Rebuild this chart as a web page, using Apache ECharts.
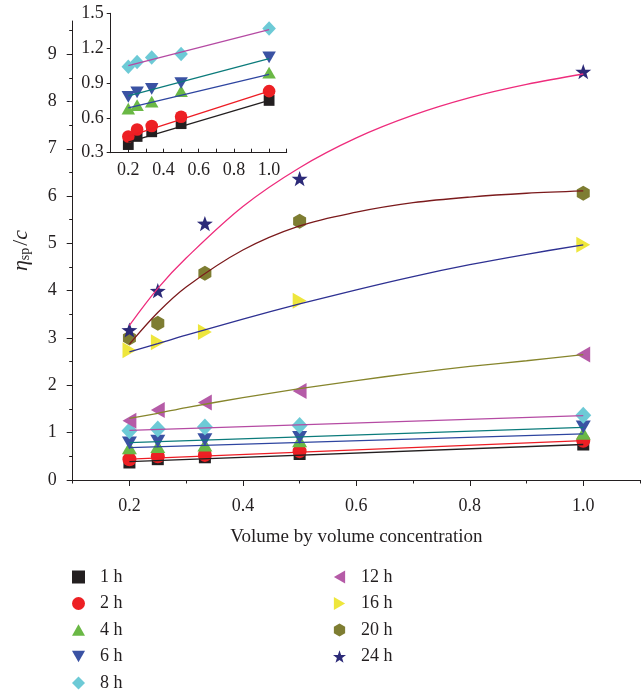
<!DOCTYPE html>
<html>
<head>
<meta charset="utf-8">
<script src="https://cdn.jsdelivr.net/npm/echarts@6/dist/echarts.min.js"></script>
<style>
html,body{margin:0;padding:0;background:#fff;}
#chart{width:644px;height:695px;}
</style>
</head>
<body>
<div id="chart"></div>
<script>
// ---------- data ----------
const conc = [0.2, 0.25, 0.333, 0.5, 1.0];
const seriesNames = ['1 h', '2 h', '4 h', '6 h', '8 h', '12 h', '16 h', '20 h', '24 h'];
const v1h  = [0.37, 0.44, 0.48, 0.55, 0.75];
const v2h  = [0.44, 0.50, 0.53, 0.61, 0.83];
const v4h  = [0.68, 0.71, 0.74, 0.83, 0.99];
const v6h  = [0.78, 0.82, 0.85, 0.90, 1.12];
const v8h  = [1.04, 1.08, 1.12, 1.15, 1.37];
const v12h = [1.25, 1.48, 1.64, 1.88, 2.65];
const v16h = [2.74, 2.91, 3.13, 3.79, 4.97];
const v20h = [3.00, 3.31, 4.37, 5.47, 6.06];
const v24h = [3.17, 4.00, 5.42, 6.37, 8.63];

// fitted lines
const fitLineX = [0.2, 1.0];
const fit1h = [0.39, 0.75];
const fit2h = [0.44, 0.83];
const fit4h = [0.685, 0.975];
const fit6h = [0.79, 1.11];
const fit8h = [1.05, 1.36];
const fitCurveX = [0.2, 0.25, 0.3, 0.4, 0.5, 0.6, 0.7, 0.8, 0.9, 1.0];
const fit12h = [1.30, 1.41, 1.53, 1.74, 1.93, 2.10, 2.26, 2.40, 2.52, 2.65];
const fit16h = [2.71, 2.88, 3.06, 3.40, 3.72, 4.02, 4.30, 4.55, 4.77, 4.97];
const fit20h = [2.87, 3.54, 4.08, 4.86, 5.37, 5.66, 5.86, 5.98, 6.06, 6.11];
const fit24h = [3.27, 4.05, 4.69, 5.78, 6.60, 7.23, 7.71, 8.08, 8.36, 8.58];

// tick values
const mainXLabels = [0.2, 0.4, 0.6, 0.8, 1.0];
const mainXMinor = [0.1, 0.3, 0.5, 0.7, 0.9, 1.1];
const mainYLabels = [0, 1, 2, 3, 4, 5, 6, 7, 8, 9];
const mainYMinor = [0.5, 1.5, 2.5, 3.5, 4.5, 5.5, 6.5, 7.5, 8.5, 9.5];
const insetXTicks = [0.1, 0.2, 0.3, 0.4, 0.5, 0.6, 0.7, 0.8, 0.9, 1.0, 1.1];
const insetXLabels = [0.2, 0.4, 0.6, 0.8, 1.0];

// ---------- styles ----------
const FONT = 'Liberation Serif';
const INK = '#231f20';
const STAR = 'path://M0,-10 L2.35,-3.24 L9.51,-3.09 L3.80,1.24 L5.88,8.09 L0,4.0 L-5.88,8.09 L-3.80,1.24 L-9.51,-3.09 L-2.35,-3.24 Z';
const HEX = 'path://M0,-10 L8.66,-5 L8.66,5 L0,10 L-8.66,5 L-8.66,-5 Z';
const UP = 'path://M0,-8.66 L10,8.66 L-10,8.66 Z';
const DOWN = 'path://M-10,-8.66 L10,-8.66 L0,8.66 Z';
const LEFT = 'path://M-8.66,0 L8.66,-10 L8.66,10 Z';
const RIGHT = 'path://M8.66,0 L-8.66,-10 L-8.66,10 Z';

const groups = [
  {name: seriesNames[0], v: v1h, fx: fitLineX, fy: fit1h, sym: 'rect', size: 12, color: '#231f20', line: '#231f20', inset: true},
  {name: seriesNames[1], v: v2h, fx: fitLineX, fy: fit2h, sym: 'circle', size: 14, color: '#ed2024', line: '#ed1c24', inset: true},
  {name: seriesNames[2], v: v4h, fx: fitLineX, fy: fit4h, sym: UP, size: 15, color: '#6ab845', line: '#2e45a0', inset: true},
  {name: seriesNames[3], v: v6h, fx: fitLineX, fy: fit6h, sym: DOWN, size: 15, color: '#3a52a3', line: '#0b7b7b', inset: true},
  {name: seriesNames[4], v: v8h, fx: fitLineX, fy: fit8h, sym: 'diamond', size: [16, 17], color: '#6dcad6', line: '#b54aa3', inset: true},
  {name: seriesNames[5], v: v12h, fx: fitCurveX, fy: fit12h, sym: LEFT, size: 16, color: '#b55ba7', line: '#86852c', inset: false},
  {name: seriesNames[6], v: v16h, fx: fitCurveX, fy: fit16h, sym: RIGHT, size: 16, color: '#eee63c', line: '#2e3192', inset: false},
  {name: seriesNames[7], v: v20h, fx: fitCurveX, fy: fit20h, sym: HEX, size: 15, color: '#7e7d32', line: '#7b1a1c', inset: false},
  {name: seriesNames[8], v: v24h, fx: fitCurveX, fy: fit24h, sym: STAR, size: 16, color: '#2c2a78', line: '#ee2c7c', inset: false}
];

function pairs(xs, ys) { return xs.map(function (x, i) { return [x, ys[i]]; }); }

const series = [];
groups.forEach(function (g) {
  series.push({
    name: g.name, type: 'scatter', xAxisIndex: 0, yAxisIndex: 0,
    data: pairs(conc, g.v), symbol: g.sym, symbolSize: g.size,
    symbolKeepAspect: true, itemStyle: {color: g.color, opacity: 1}, z: 2
  });
  series.push({
    name: g.name + ' fit', type: 'line', xAxisIndex: 0, yAxisIndex: 0,
    data: pairs(g.fx, g.fy), showSymbol: false, symbol: 'none', smooth: g.fx.length > 2 ? 0.35 : false,
    lineStyle: {color: g.line, width: 1.3}, z: 3, silent: true
  });
  if (g.inset) {
    const s = Array.isArray(g.size) ? g.size.map(function (d) { return d * 0.85; }) : g.size * 0.9;
    series.push({
      name: g.name, type: 'scatter', xAxisIndex: 2, yAxisIndex: 2,
      data: pairs(conc, g.v), symbol: g.sym, symbolSize: s,
      symbolKeepAspect: true, itemStyle: {color: g.color, opacity: 1}, z: 2
    });
    series.push({
      name: g.name + ' fit', type: 'line', xAxisIndex: 2, yAxisIndex: 2,
      data: pairs(g.fx, g.fy), showSymbol: false, symbol: 'none',
      lineStyle: {color: g.line, width: 1.3}, z: 3, silent: true
    });
  }
});

const labelStyle = {fontFamily: FONT, fontSize: 18, color: INK};
const lineStyle = {color: INK, width: 1};
const legendText = {fontFamily: FONT, fontSize: 18, color: INK, lineHeight: 18, padding: [0, 0, 0, 10]};

const option = {
  animation: false,
  backgroundColor: '#fff',
  grid: [
    {left: 72.7, right: 4, top: 21, bottom: 215},
    {left: 110.7, right: 357.3, top: 13.3, bottom: 542.3}
  ],
  xAxis: [
    {
      type: 'value', gridIndex: 0, min: 0.1, max: 1.1, position: 'bottom',
      axisLine: {show: true, onZero: false, lineStyle: lineStyle},
      axisTick: {show: true, customValues: mainXLabels, length: 6, inside: false, lineStyle: lineStyle},
      axisLabel: Object.assign({customValues: mainXLabels, margin: 17, formatter: function (v) { return v.toFixed(1); }}, labelStyle),
      splitLine: {show: false},
      name: 'Volume by volume concentration', nameLocation: 'middle', nameGap: 48,
      nameTextStyle: {fontFamily: FONT, fontSize: 19, color: INK}
    },
    {
      type: 'value', gridIndex: 0, min: 0.1, max: 1.1, position: 'bottom',
      axisLine: {show: false},
      axisTick: {show: true, customValues: mainXMinor, length: 3.5, lineStyle: lineStyle},
      axisLabel: {show: false}, splitLine: {show: false}
    },
    {
      type: 'value', gridIndex: 1, min: 0.1, max: 1.1, position: 'bottom',
      axisLine: {show: true, onZero: false, lineStyle: lineStyle},
      axisTick: {show: true, customValues: insetXTicks, length: 4, inside: true, lineStyle: lineStyle},
      axisLabel: Object.assign({customValues: insetXLabels, margin: 9, formatter: function (v) { return v.toFixed(1); }}, labelStyle),
      splitLine: {show: false}
    }
  ],
  yAxis: [
    {
      type: 'value', gridIndex: 0, min: 0, max: 9.7, position: 'left',
      axisLine: {show: true, onZero: false, lineStyle: lineStyle},
      axisTick: {show: true, customValues: mainYLabels, length: 6, lineStyle: lineStyle},
      axisLabel: Object.assign({customValues: mainYLabels, margin: 16}, labelStyle),
      splitLine: {show: false},
      name: '{i|η}{s|sp}{n|/}{i|c}', nameLocation: 'middle', nameGap: 40, nameRotate: 90,
      nameTextStyle: {
        color: INK,
        rich: {
          i: {fontFamily: FONT, fontStyle: 'italic', fontSize: 22, color: INK},
          n: {fontFamily: FONT, fontSize: 22, color: INK},
          s: {fontFamily: FONT, fontSize: 14, color: INK, verticalAlign: 'bottom', padding: [8, 2, 0, 0]}
        }
      }
    },
    {
      type: 'value', gridIndex: 0, min: 0, max: 9.7, position: 'left',
      axisLine: {show: false},
      axisTick: {show: true, customValues: mainYMinor, length: 3.5, lineStyle: lineStyle},
      axisLabel: {show: false}, splitLine: {show: false}
    },
    {
      type: 'value', gridIndex: 1, min: 0.3, max: 1.5, interval: 0.3, position: 'left',
      axisLine: {show: true, onZero: false, lineStyle: lineStyle},
      axisTick: {show: true, length: 4, lineStyle: lineStyle},
      axisLabel: Object.assign({margin: 7, formatter: function (v) { return v.toFixed(1); }}, labelStyle),
      splitLine: {show: false}
    }
  ],
  legend: [
    {
      data: seriesNames.slice(0, 5), orient: 'vertical', left: 72, top: 568, padding: 0, height: 140,
      itemWidth: 13, itemHeight: 13, itemGap: 8.5, selectedMode: false,
      textStyle: legendText
    },
    {
      data: seriesNames.slice(5), orient: 'vertical', left: 333, top: 568, padding: 0, height: 140,
      itemWidth: 13, itemHeight: 13, itemGap: 8.5, selectedMode: false,
      textStyle: legendText
    }
  ],
  series: series
};

const chart = echarts.init(document.getElementById('chart'), null, {renderer: 'canvas'});
chart.setOption(option);
</script>
</body>
</html>
